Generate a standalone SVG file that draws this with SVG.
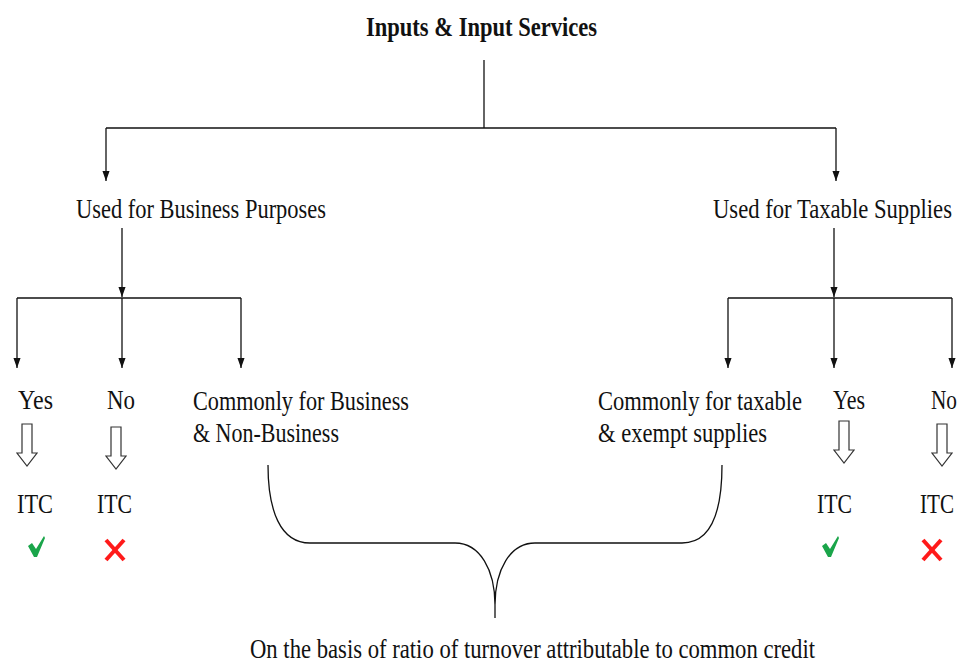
<svg xmlns="http://www.w3.org/2000/svg" width="960" height="663" viewBox="0 0 960 663">
<style>
  text { font-family: "Liberation Serif", "Times New Roman", serif; font-size: 23px; fill: #111; }
  .title { font-weight: bold; font-size: 23px; }
  .ln { stroke: #111; stroke-width: 1.3; fill: none; }
  .hollow { fill: #fff; stroke: #333; stroke-width: 1.2; }
  .tick { fill: #1aa54a; }
  .cross { stroke: #ff1a1a; stroke-width: 4; stroke-linecap: butt; }
</style>
<defs>
  <marker id="arr" markerWidth="10" markerHeight="14" refX="14" refY="5" orient="auto" markerUnits="userSpaceOnUse" viewBox="0 0 14 10">
    <path d="M0,0 L14,5 L0,10 Z" fill="#111"/>
  </marker>
  <path id="hollowArrow" d="M-5,0 L5,0 L5,29 L10,29 L0,42 L-10,29 L-5,29 Z"/>
</defs>

<g id="connectors">
  <line class="ln" x1="484" y1="60" x2="484" y2="128"/>
  <line class="ln" x1="106" y1="128" x2="836" y2="128"/>
  <line class="ln" x1="106" y1="128" x2="106" y2="181" marker-end="url(#arr)"/>
  <line class="ln" x1="836" y1="128" x2="836" y2="181" marker-end="url(#arr)"/>

  <line class="ln" x1="122" y1="228" x2="122" y2="297" marker-end="url(#arr)"/>
  <line class="ln" x1="17" y1="298" x2="241" y2="298"/>
  <line class="ln" x1="17" y1="298" x2="17" y2="368" marker-end="url(#arr)"/>
  <line class="ln" x1="122" y1="298" x2="122" y2="368" marker-end="url(#arr)"/>
  <line class="ln" x1="241" y1="298" x2="241" y2="368" marker-end="url(#arr)"/>

  <line class="ln" x1="834" y1="228" x2="834" y2="297" marker-end="url(#arr)"/>
  <line class="ln" x1="728" y1="298" x2="952" y2="298"/>
  <line class="ln" x1="728" y1="298" x2="728" y2="368" marker-end="url(#arr)"/>
  <line class="ln" x1="834" y1="298" x2="834" y2="368" marker-end="url(#arr)"/>
  <line class="ln" x1="952" y1="298" x2="952" y2="368" marker-end="url(#arr)"/>

  <use href="#hollowArrow" class="hollow" transform="translate(27,424)"/>
  <use href="#hollowArrow" class="hollow" transform="translate(116,427)"/>
  <use href="#hollowArrow" class="hollow" transform="translate(844,421)"/>
  <use href="#hollowArrow" class="hollow" transform="translate(942,424)"/>

  <path id="brace" class="ln" d="M268,465 C268,510 280,543 310,543 L455,543 C480,543 495,570 495,605 C495,570 510,543 535,543 L682,543 C712,543 722,510 722,465 M495,600 L495,618"/>
</g>

<g id="node-root"><text class="title" transform="translate(366,36) scale(1,1.15)" textLength="231" lengthAdjust="spacingAndGlyphs">Inputs &amp; Input Services</text></g>
<g id="node-business"><text transform="translate(76,218) scale(1,1.15)" textLength="250" lengthAdjust="spacingAndGlyphs">Used for Business Purposes</text></g>
<g id="node-taxable"><text transform="translate(713,218) scale(1,1.15)" textLength="239" lengthAdjust="spacingAndGlyphs">Used for Taxable Supplies</text></g>

<g id="node-yes-left"><text transform="translate(18,409) scale(1,1.15)" textLength="35" lengthAdjust="spacingAndGlyphs">Yes</text><text transform="translate(17,513) scale(1,1.15)" textLength="36" lengthAdjust="spacingAndGlyphs">ITC</text>
  <path class="tick" d="M28,546 L32,543 L36,549 L44,536 L45,538 L37,557 L34,557 Z"/></g>
<g id="node-no-left"><text transform="translate(107,409) scale(1,1.15)" textLength="28" lengthAdjust="spacingAndGlyphs">No</text><text transform="translate(97,513) scale(1,1.15)" textLength="35" lengthAdjust="spacingAndGlyphs">ITC</text>
  <line class="cross" x1="106" y1="540" x2="124" y2="560"/><line class="cross" x1="124" y1="540" x2="106" y2="560"/></g>
<g id="node-common-business"><text transform="translate(193,410) scale(1,1.15)" textLength="216" lengthAdjust="spacingAndGlyphs">Commonly for Business</text><text transform="translate(193,442) scale(1,1.15)" textLength="146" lengthAdjust="spacingAndGlyphs">&amp; Non-Business</text></g>
<g id="node-common-taxable"><text transform="translate(598,410) scale(1,1.15)" textLength="204" lengthAdjust="spacingAndGlyphs">Commonly for taxable</text><text transform="translate(598,442) scale(1,1.15)" textLength="169" lengthAdjust="spacingAndGlyphs">&amp; exempt supplies</text></g>
<g id="node-yes-right"><text transform="translate(833,409) scale(1,1.15)" textLength="32" lengthAdjust="spacingAndGlyphs">Yes</text><text transform="translate(817,513) scale(1,1.15)" textLength="35" lengthAdjust="spacingAndGlyphs">ITC</text>
  <path class="tick" d="M822,546 L826,543 L830,549 L838,536 L839,538 L831,557 L828,557 Z"/></g>
<g id="node-no-right"><text transform="translate(931,409) scale(1,1.15)" textLength="26" lengthAdjust="spacingAndGlyphs">No</text><text transform="translate(920,513) scale(1,1.15)" textLength="34" lengthAdjust="spacingAndGlyphs">ITC</text>
  <line class="cross" x1="923" y1="540" x2="941" y2="560"/><line class="cross" x1="941" y1="540" x2="923" y2="560"/></g>

<g id="node-ratio"><text transform="translate(250,658) scale(1,1.15)" textLength="565" lengthAdjust="spacingAndGlyphs">On the basis of ratio of turnover attributable to common credit</text></g>
</svg>
